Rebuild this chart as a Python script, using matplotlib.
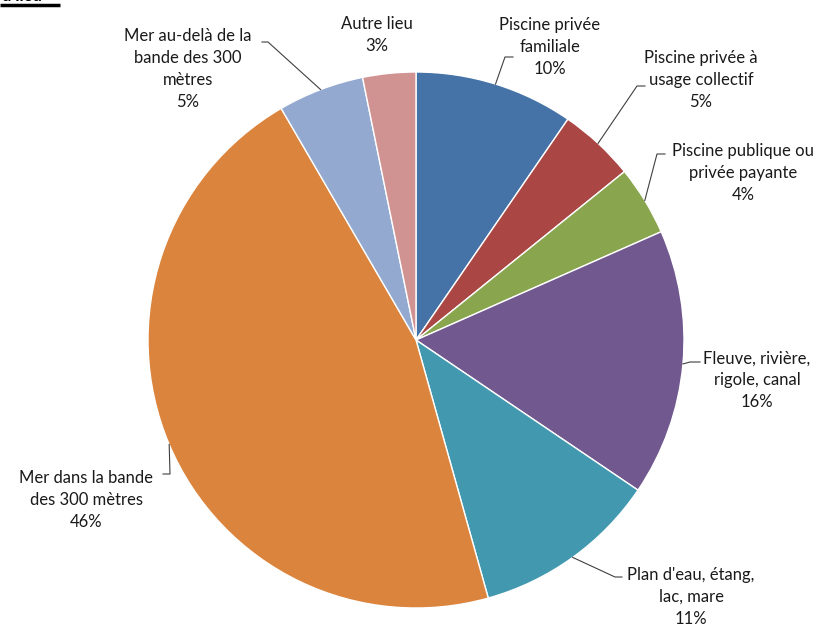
import numpy as np
import matplotlib.pyplot as plt

plt.rcParams['font.family'] = ['Lato', 'DejaVu Sans']

# data (shares)
labels = ["Piscine privée\nfamiliale",
          "Piscine privée à\nusage collectif",
          "Piscine publique ou\nprivée payante",
          "Fleuve, rivière,\nrigole, canal",
          "Plan d'eau, étang,\nlac, mare",
          "Mer dans la bande\ndes 300 mètres",
          "Mer au-delà de la\nbande des 300\nmètres",
          "Autre lieu"]
values = [9.6, 4.6, 4.2, 16.1, 11.2, 46.0, 5.2, 3.2]
colors = ["#4572A7", "#AA4643", "#89A54E", "#71588F",
          "#4198AF", "#DB843D", "#93A9CF", "#D19392"]

# label layout in pixels (text centre, elbow of leader line); None = no leader
label_pos = [(550, 47), (701, 80), (743, 173), (757, 380),
             (691, 597), (86, 500), (188, 69), (377, 35)]
elbows = [(505, 57, 513), (637, 86, 645), (657, 154, 665), (690, 362, 700),
          (615, 577, 622), (170, 474, 163), (268, 42, 262), None]

W, H = 822, 626
cx, cy, r = 416, H - 340, 268

fig = plt.figure(figsize=(W / 100, H / 100), dpi=100)
ax = fig.add_axes([0, 0, 1, 1])
ax.set_xlim(0, W)
ax.set_ylim(0, H)
ax.axis("off")

wedges, _ = ax.pie(values, colors=colors, startangle=90, counterclock=False,
                   center=(cx, cy), radius=r,
                   wedgeprops=dict(edgecolor="white", linewidth=1.0))
ax.set_xlim(0, W)
ax.set_ylim(0, H)
ax.set_aspect("equal")

total = sum(values)
for w, lab, (tx, ty), el, v in zip(wedges, labels, label_pos, elbows, values):
    pct = "%d%%" % round(v / total * 100)
    ax.text(tx, H - ty, lab + "\n" + pct, ha="center", va="center",
            fontsize=12, color="#1a1a1a", linespacing=1.45)
    if el is None:
        continue
    mid = np.deg2rad((w.theta1 + w.theta2) / 2)
    x0, y0 = cx + r * np.cos(mid), cy + r * np.sin(mid)
    ex, ey, hx = el
    ax.plot([x0, ex, hx], [y0, H - ey, H - ey], color="#404040", lw=0.8)

# cut-off heading at the top-left corner
ax.text(2, H + 12, "u lieu", ha="left", va="top", fontsize=12,
        fontweight="bold", color="black", clip_on=False)
ax.plot([0, 60], [H - 5, H - 5], color="black", lw=2.5, solid_capstyle="butt")

fig.savefig("out.png", dpi=100)
